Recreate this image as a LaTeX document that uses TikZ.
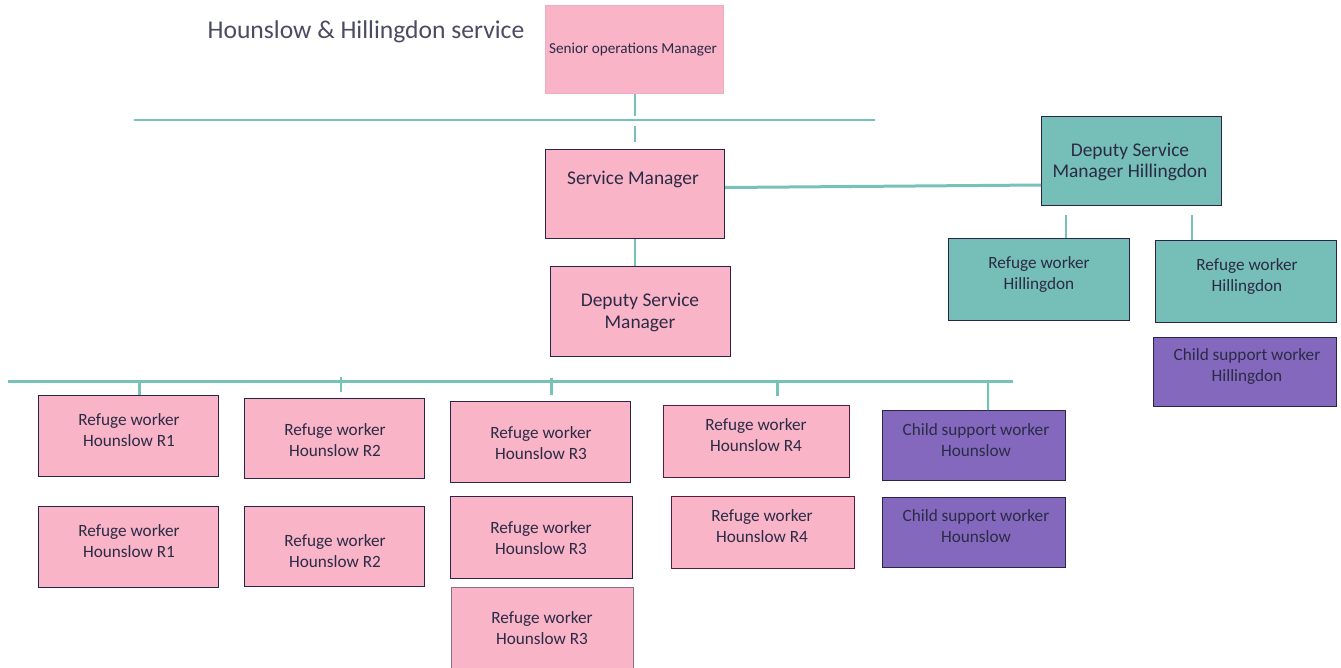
\documentclass[tikz,border=0pt]{standalone}
\usepackage{fontspec}
\setmainfont{Carlito}
\definecolor{pinkf}{HTML}{F9B4C8}
\definecolor{tealf}{HTML}{76BEB8}
\definecolor{purpf}{HTML}{8468BE}
\definecolor{bord}{HTML}{2A2448}
\definecolor{maroon}{HTML}{5A1A3A}
\definecolor{linec}{HTML}{76C2B8}
\definecolor{txt}{HTML}{2B2B45}
\newcommand{\bx}[6]{\node[box,#6,anchor=north west,minimum width={#4-#2},minimum height={#5-#3}] (#1) at (#2,#3) {};}
\tikzset{
  box/.style={draw=bord,line width=1.2pt,inner sep=0pt,rectangle},
  lbl/.style={text=txt,align=center,font=\fontsize{17.2}{21}\selectfont,inner sep=0pt,yshift=-1.5pt},
  conn/.style={draw=linec,line width=2pt},
  bus/.style={draw=linec,line width=3pt},
}
\begin{document}
\begin{tikzpicture}[x=1pt,y=-1pt]
\useasboundingbox (0,0) rectangle (1341,667);
% title
\node[text=txt!85,font=\fontsize{25.6}{30}\selectfont,inner sep=0pt,yshift=-2pt] (title) at (366,30) {Hounslow \& Hillingdon service};
% boxes
\bx{som}{545}{5}{723}{93}{fill=pinkf,draw=pinkf!80!black!20!pinkf}
\node[lbl,font=\fontsize{15.2}{18}\selectfont] (som-t) at (633,48) {Senior operations Manager};
\bx{sm}{545}{149}{724}{238}{fill=pinkf}
\node[lbl,font=\fontsize{19.4}{23}\selectfont] (sm-t) at (633,178) {Service Manager};
\bx{dsm}{550}{266}{730}{356}{fill=pinkf}
\node[lbl,font=\fontsize{19.4}{22}\selectfont] (dsm-t) at (640,311) {Deputy Service\\Manager};
\bx{dsmh}{1041}{116}{1221}{205}{fill=tealf}
\node[lbl,font=\fontsize{19.4}{21}\selectfont] (dsmh-t) at (1130,160) {Deputy Service\\Manager Hillingdon};
\bx{rh1}{948}{238}{1129}{320}{fill=tealf}
\node[lbl] (rh1-t) at (1039,273) {Refuge worker\\Hillingdon};
\bx{rh2}{1155}{240}{1336}{322}{fill=tealf}
\node[lbl] (rh2-t) at (1247,275) {Refuge worker\\Hillingdon};
\bx{csh}{1153}{337}{1336}{406}{fill=purpf}
\node[lbl] (csh-t) at (1247,365) {Child support worker\\Hillingdon};
% bottom row
\bx{r1a}{38}{395}{218}{476}{fill=pinkf}
\node[lbl] (r1a-t) at (129,429) {Refuge worker\\Hounslow R1};
\bx{r1b}{38}{506}{218}{587}{fill=pinkf}
\node[lbl] (r1b-t) at (129,540) {Refuge worker\\Hounslow R1};
\bx{r2a}{244}{398}{424}{478}{fill=pinkf}
\node[lbl] (r2a-t) at (335,439) {Refuge worker\\Hounslow R2};
\bx{r2b}{244}{506}{424}{586}{fill=pinkf}
\node[lbl] (r2b-t) at (335,550) {Refuge worker\\Hounslow R2};
\bx{r3a}{450}{401}{630}{482}{fill=pinkf}
\node[lbl] (r3a-t) at (541,442) {Refuge worker\\Hounslow R3};
\bx{r3b}{450}{496}{632}{578}{fill=pinkf}
\node[lbl] (r3b-t) at (541,537) {Refuge worker\\Hounslow R3};
\bx{r3c}{451}{587}{633}{672}{fill=pinkf,draw=bord!50!pinkf}
\node[lbl] (r3c-t) at (542,627) {Refuge worker\\Hounslow R3};
\bx{r4a}{663}{405}{849}{477}{fill=pinkf,draw=maroon}
\node[lbl] (r4a-t) at (756,434) {Refuge worker\\Hounslow R4};
\bx{r4b}{671}{496}{854}{568}{fill=pinkf,draw=maroon}
\node[lbl] (r4b-t) at (762,525) {Refuge worker\\Hounslow R4};
\bx{csa}{882}{410}{1065}{480}{fill=purpf}
\node[lbl] (csa-t) at (976,439) {Child support worker\\Hounslow};
\bx{csb}{882}{497}{1065}{567}{fill=purpf}
\node[lbl] (csb-t) at (976,525) {Child support worker\\Hounslow};
% connectors
\coordinate (hl1) at (134,120);
\coordinate (hl2) at (875,120);
\draw[conn,line width=1.5pt] (hl1) -- (hl2);
\draw[conn,dash pattern=on 22pt off 10pt on 16pt off 20pt] (som.south -| 635,0) -- (sm.north -| 635,0);
\draw[bus] (sm.east |- 0,187.5) -- (dsmh.west |- 0,185);
\draw[conn] (sm.south -| 635,0) -- (dsm.north -| 635,0);
\coordinate (b1) at (8,381);
\coordinate (b2) at (1013,381);
\draw[bus] (b1) -- (b2);
\draw[bus] (139,381) -- (r1a.north -| 139,0);
\draw[conn] (341,377) -- (341,392);
\draw[bus] (551,378) -- (551,395);
\draw[bus] (777,380) -- (777,396);
\draw[conn] (1013,381) -- (988,382) -- (csa.north -| 988,0);
\draw[conn] (1066,215) -- (rh1.north -| 1066,0);
\draw[conn] (1192,215) -- (rh2.north -| 1192,0);
\end{tikzpicture}
\end{document}
